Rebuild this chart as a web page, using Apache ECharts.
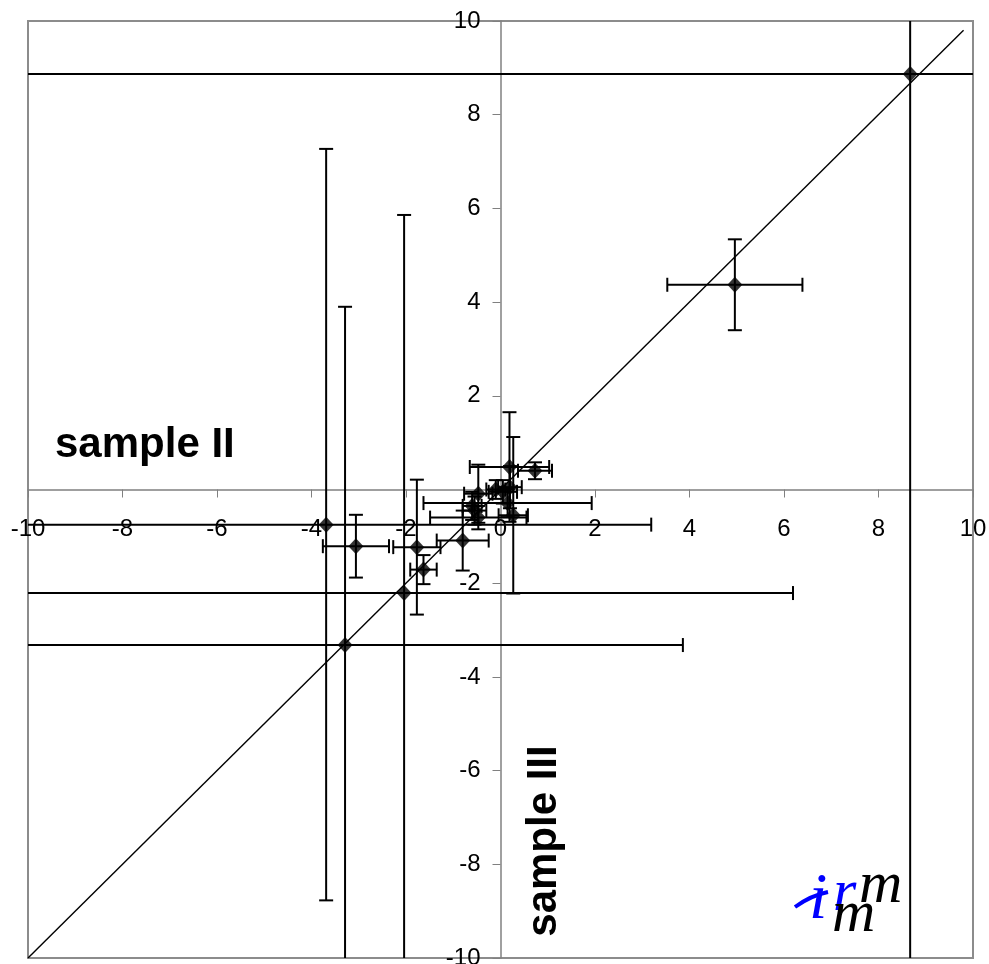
<!DOCTYPE html>
<html>
<head>
<meta charset="utf-8">
<title>sample II vs sample III</title>
<script src="https://cdn.jsdelivr.net/npm/echarts@6/dist/echarts.min.js"></script>
<style>
    html, body { margin: 0; padding: 0; background: #fff; }
    #chart { width: 989px; height: 964px; }
</style>
</head>
<body>
<div id="chart"></div>
<script>
// values: sample III on x, sample II on y
var xValues = [8.67, 4.96, -3.69, -3.29, -2.04, -3.06, -1.77, -1.63, -0.80, 0.19, 0.73, 0.27, 0.15, -0.47, -0.47, 0.05, 0.20, -0.60, -0.10, -0.55];
var yValues = [8.87, 4.37, -0.75, -3.32, -2.21, -1.21, -1.23, -1.71, -1.09, 0.48, 0.40, -0.55, -0.29, -0.60, -0.09, -0.05, 0.05, -0.35, 0.00, -0.45];
var xErrors = [20, 1.43, 6.88, 7.15, 8.23, 0.70, 0.50, 0.28, 0.55, 0.84, 0.36, 0.31, 1.78, 1.02, 0.30, 0.30, 0.25, 0.20, 0.20, 0.25];
var yErrors = [20, 0.97, 8.02, 7.22, 8.07, 0.67, 1.44, 0.31, 0.64, 1.17, 0.18, 1.67, 0.30, 0.25, 0.62, 0.25, 0.45, 0.30, 0.20, 0.30];
var diagonal = [[-10, -10], [9.8, 9.8]];
var axisMin = -10;
var axisMax = 10;
var axisStep = 2;

var points = xValues.map(function(x, i) {
    return [x, yValues[i], xErrors[i], yErrors[i]];
});

var W = 989, H = 964;
var grid = { left: 28, right: 16, top: 21, bottom: 6 };
var gridW = W - grid.left - grid.right;
var gridH = H - grid.top - grid.bottom;

var chart = echarts.init(document.getElementById('chart'));

// draws the cross shaped error bars, cut at the axis range
function renderErrorBars(params, api) {
    var x = api.value(0), y = api.value(1);
    var ex = api.value(2), ey = api.value(3);
    var style = { stroke: '#000', lineWidth: 2 };
    var cap = 7;
    var left = Math.max(axisMin, x - ex), right = Math.min(axisMax, x + ex);
    var bottom = Math.max(axisMin, y - ey), top = Math.min(axisMax, y + ey);
    var pL = api.coord([left, y]), pR = api.coord([right, y]);
    var pB = api.coord([x, bottom]), pT = api.coord([x, top]);
    var children = [
        { type: 'line', shape: { x1: pL[0], y1: pL[1], x2: pR[0], y2: pR[1] }, style: style },
        { type: 'line', shape: { x1: pB[0], y1: pB[1], x2: pT[0], y2: pT[1] }, style: style }
    ];
    if (x - ex >= axisMin) {
        children.push({ type: 'line', shape: { x1: pL[0], y1: pL[1] - cap, x2: pL[0], y2: pL[1] + cap }, style: style });
    }
    if (x + ex <= axisMax) {
        children.push({ type: 'line', shape: { x1: pR[0], y1: pR[1] - cap, x2: pR[0], y2: pR[1] + cap }, style: style });
    }
    if (y - ey >= axisMin) {
        children.push({ type: 'line', shape: { x1: pB[0] - cap, y1: pB[1], x2: pB[0] + cap, y2: pB[1] }, style: style });
    }
    if (y + ey <= axisMax) {
        children.push({ type: 'line', shape: { x1: pT[0] - cap, y1: pT[1], x2: pT[0] + cap, y2: pT[1] }, style: style });
    }
    return { type: 'group', children: children };
}

var labelFont = { color: '#000', fontSize: 24, fontFamily: 'Liberation Sans, Arial, sans-serif' };

var option = {
    animation: false,
    backgroundColor: '#fff',
    grid: {
        left: grid.left, right: grid.right, top: grid.top, bottom: grid.bottom,
        containLabel: false, outerBoundsMode: 'none',
        show: true, borderColor: '#8c8c8c', borderWidth: 2, backgroundColor: 'transparent'
    },
    xAxis: {
        type: 'value', min: axisMin, max: axisMax, interval: axisStep,
        position: 'bottom', offset: -gridH / 2,
        axisLine: { onZero: false, lineStyle: { color: '#808080', width: 1.5 } },
        axisTick: { show: true, length: 8, lineStyle: { color: '#808080' } },
        axisLabel: Object.assign({ margin: 28, showMinLabel: true, showMaxLabel: true }, labelFont),
        splitLine: { show: false }
    },
    yAxis: {
        type: 'value', min: axisMin, max: axisMax, interval: axisStep,
        position: 'left', offset: -gridW / 2,
        axisLine: { onZero: false, lineStyle: { color: '#808080', width: 1.5 } },
        axisTick: { show: true, length: 8, lineStyle: { color: '#808080' } },
        axisLabel: Object.assign({
            margin: 20, showMinLabel: true, showMaxLabel: true,
            formatter: function(v) { return v === 0 ? '' : v; }
        }, labelFont),
        splitLine: { show: false }
    },
    series: [{
        type: 'line',
        data: diagonal,
        symbol: 'none',
        lineStyle: { color: '#000', width: 1.4 },
        z: 1
    }, {
        type: 'custom',
        data: points,
        renderItem: renderErrorBars,
        encode: { x: 0, y: 1 },
        z: 2
    }, {
        type: 'scatter',
        data: points,
        symbol: 'diamond',
        symbolSize: [15, 16],
        itemStyle: { color: '#000' },
        z: 3
    }],
    graphic: [{
        type: 'text', left: 55, top: 424,
        style: { text: 'sample II', fill: '#000', font: 'bold 42px "Liberation Sans", Arial, sans-serif' }
    }, {
        type: 'text', x: 544, y: 841, rotation: Math.PI / 2,
        style: {
            text: 'sample III', fill: '#000', align: 'center', verticalAlign: 'middle',
            font: 'bold 42px "Liberation Sans", Arial, sans-serif'
        }
    }, {
        type: 'bezierCurve',
        shape: { x1: 795, y1: 907, cpx1: 806, cpy1: 899, cpx2: 818, cpy2: 894, x2: 828, y2: 892 },
        style: { stroke: '#0000ff', lineWidth: 4, fill: null }
    }, {
        type: 'text', x: 809, y: 934,
        style: { text: 'i', fill: '#0000ff', font: 'italic 66px "Liberation Serif", "Times New Roman", serif', verticalAlign: 'bottom' }
    }, {
        type: 'text', x: 833, y: 924,
        style: { text: 'r', fill: '#0000ff', font: 'italic 60px "Liberation Serif", "Times New Roman", serif', verticalAlign: 'bottom' }
    }, {
        type: 'text', x: 859, y: 916,
        style: { text: 'm', fill: '#000', font: 'italic 60px "Liberation Serif", "Times New Roman", serif', verticalAlign: 'bottom' }
    }, {
        type: 'text', x: 832, y: 945,
        style: { text: 'm', fill: '#000', font: 'italic 60px "Liberation Serif", "Times New Roman", serif', verticalAlign: 'bottom' }
    }]
};

chart.setOption(option);
</script>
</body>
</html>
